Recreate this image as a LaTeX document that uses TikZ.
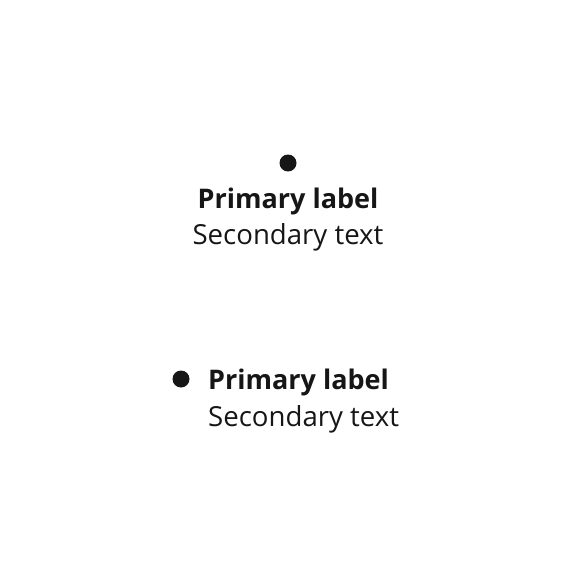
\documentclass[tikz,border=0pt]{standalone}
\usepackage{fontspec}
\setmainfont{Open Sans}
\usetikzlibrary{positioning}
\definecolor{inkgray}{RGB}{22, 22, 22}

\begin{document}
\begin{tikzpicture}[
    x=1pt, y=1pt,
    dot/.style={circle, fill=inkgray, inner sep=0pt, minimum size=17pt},
    primary/.style={inner sep=0pt, text=inkgray, font=\fontsize{27}{30}\selectfont\bfseries},
    secondary/.style={inner sep=0pt, text=inkgray, font=\fontsize{27.6}{30}\selectfont}
]
\useasboundingbox (0,0) rectangle (576,-578);

% Label below the dot
\node[dot] (topdot) at (288,-163) {};
\node[primary, anchor=base] (topprimary) at (288,-208) {Primary label};
\node[secondary, anchor=base] (topsecondary) at (288,-244) {Secondary text};

% Label beside the dot
\node[dot] (sidedot) at (181,-379) {};
\node[primary, anchor=base west] (sideprimary) at (208,-389) {Primary label};
\node[secondary, anchor=base west] (sidesecondary) at (208,-426) {Secondary text};

\end{tikzpicture}
\end{document}
